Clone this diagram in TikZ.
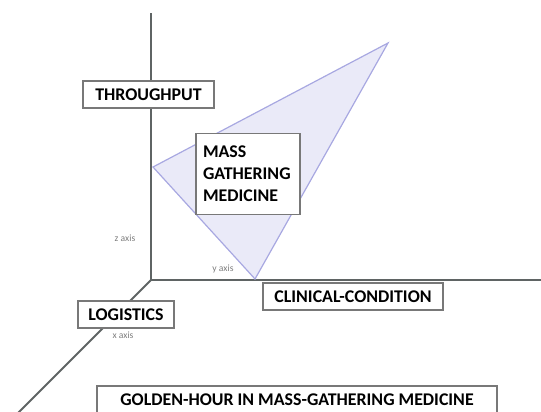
\documentclass[tikz,border=0pt]{standalone}
\usepackage{fontspec}
\setmainfont{Carlito}
\usetikzlibrary{positioning}

\tikzset{
  labelbox/.style={draw={rgb,255:red,120;green,120;blue,120}, line width=1.2pt, fill=white,
    inner sep=0pt, font=\fontsize{13.4}{16.5}\selectfont\bfseries},
  axisline/.style={draw={rgb,255:red,95;green,100;blue,100}, line width=1.4pt},
  axislabel/.style={font=\fontsize{7.2}{8}\selectfont, text={rgb,255:red,125;green,125;blue,125}, inner sep=0pt}
}

\begin{document}
\begin{tikzpicture}[x=0.75pt,y=0.75pt,yscale=-1,xscale=1]
\useasboundingbox (0,0) rectangle (541,411);
\clip (0,0) rectangle (541,411);

%Axes
\coordinate (origin) at (151,280);
\coordinate (ztop) at (151,13);
\coordinate (yend) at (545,280);
\coordinate (xend) at (8,423);
\draw [axisline] (origin) -- (ztop) ;
\draw [axisline] (origin) -- (yend) ;
\draw [axisline] (origin) -- (xend) ;

%Shape: Triangle
\coordinate (tA) at (153,167);
\coordinate (tB) at (388,43);
\coordinate (tC) at (255,279);
\draw [draw={rgb, 255:red, 168; green, 168; blue, 225 }, line width=0.9pt, fill={rgb, 255:red, 234; green, 234; blue, 248 }] (tA) -- (tB) -- (tC) -- cycle ;

% Text Node
\node [labelbox, minimum width=131*0.75pt, minimum height=27*0.75pt] (throughput) at (148.5,94.5) {THROUGHPUT};
% Text Node
\node [labelbox, minimum width=104*0.75pt, minimum height=81*0.75pt, align=left, text width=90*0.75pt] (mgm) at (248,174) {MASS\\GATHERING\\MEDICINE};
% Text Node
\node [labelbox, minimum width=96*0.75pt, minimum height=27*0.75pt] (logistics) at (126,314.5) {LOGISTICS};
% Text Node
\node [labelbox, minimum width=180*0.75pt, minimum height=27*0.75pt] (clinical) at (353,296.5) {CLINICAL-CONDITION};
% Text Node
\node [labelbox, minimum width=400*0.75pt, minimum height=28*0.75pt] (golden) at (297,400) {GOLDEN-HOUR IN MASS-GATHERING MEDICINE};

% Axis labels
\node [axislabel] (zlabel) at (125,238) {z axis};
\node [axislabel] (ylabel) at (223,269) {y axis};
\node [axislabel] (xlabel) at (123,335) {x axis};

\end{tikzpicture}
\end{document}
